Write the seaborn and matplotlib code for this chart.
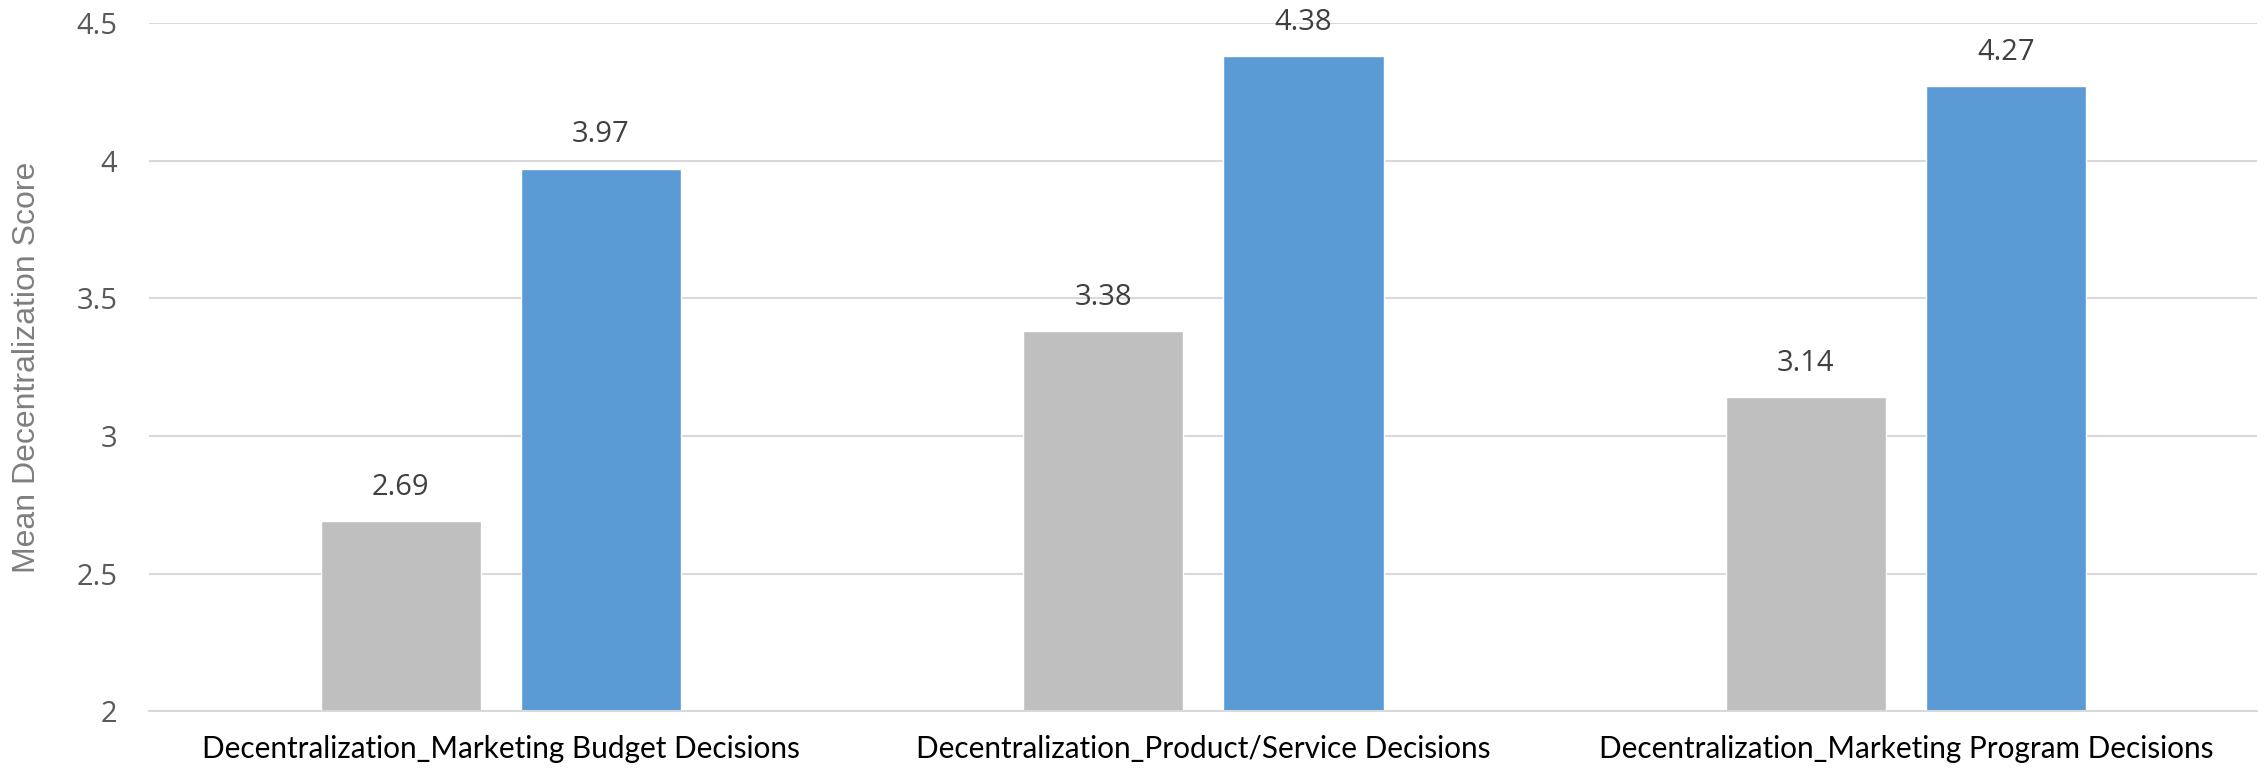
import numpy as np
import pandas as pd
import seaborn as sns
import matplotlib.pyplot as plt

# values
categories = ["Decentralization_Marketing Budget Decisions",
              "Decentralization_Product/Service Decisions",
              "Decentralization_Marketing Program Decisions"]
series_names = ["Group 1", "Group 2"]
group1_means = [2.69, 3.38, 3.14]
group2_means = [3.97, 4.38, 4.27]
y_ticks = [2, 2.5, 3, 3.5, 4, 4.5]
y_tick_labels = ["2", "2.5", "3", "3.5", "4", "4.5"]

df = pd.DataFrame({
    "category": categories * 2,
    "group": [series_names[0]] * 3 + [series_names[1]] * 3,
    "score": group1_means + group2_means,
})

sns.set_style("white")
plt.rcParams['font.family'] = ['Open Sans', 'DejaVu Sans']

fig, ax = plt.subplots(figsize=(22.64, 7.68), dpi=100)
fig.subplots_adjust(left=0.066, right=0.997, top=0.970, bottom=0.074)

sns.barplot(data=df, x="category", y="score", hue="group",
            palette=["#BFBFBF", "#5B9BD5"], width=0.57, gap=0.2,
            saturation=1, legend=False, ax=ax)

ax.set_ylim(2, 4.5)
ax.set_xlim(-0.5, 2.5)
ax.set_yticks(y_ticks)
ax.set_yticklabels(y_tick_labels)
ax.yaxis.grid(True, color="#D9D9D9", linewidth=1.5)
ax.set_axisbelow(True)
for s in ["top", "right", "left"]:
    ax.spines[s].set_visible(False)
ax.spines["bottom"].set_color("#D9D9D9")
ax.spines["bottom"].set_linewidth(1.5)

ax.tick_params(axis="y", length=0, labelsize=21, labelcolor="#595959", pad=23)
ax.tick_params(axis="x", length=0, labelcolor="black", pad=17)
for lab in ax.get_xticklabels():
    lab.set_family(["Lato", "DejaVu Sans"])
    lab.set_fontsize(21.4)

ax.set_xlabel("")
ax.set_ylabel("Mean Decentralization Score", fontsize=23, color="#7F7F7F",
              family=["Liberation Sans", "DejaVu Sans"])
ax.yaxis.set_label_coords(-0.0512, 0.5)

for cont in ax.containers:
    ax.bar_label(cont, fmt="%.2f", padding=14, fontsize=21, color="#404040")

fig.savefig("out.png", dpi=100)
